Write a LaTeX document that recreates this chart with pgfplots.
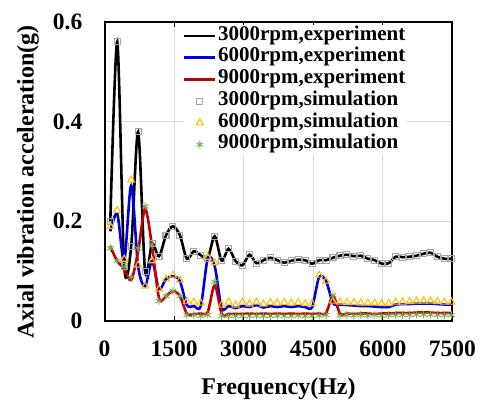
\documentclass[border=0pt]{standalone}
\usepackage{fontspec}
\setmainfont{Liberation Serif}
\usepackage{pgfplots}
\pgfplotsset{compat=1.18}
\usepackage{pgfplotstable}

\definecolor{cblue}{RGB}{0,0,230}
\definecolor{cred}{RGB}{192,0,0}
\definecolor{cgray}{RGB}{165,165,165}
\definecolor{cyel}{RGB}{255,192,0}
\definecolor{cgreen}{RGB}{112,173,71}

\pgfplotstableread{
f e3 e6 e9 s3 s6 s9
125 0.200 0.180 0.150 0.200 0.190 0.146
275 0.560 0.215 0.120 0.560 0.222 0.121
425 0.110 0.120 0.105 0.110 0.124 0.109
575 0.150 0.272 0.082 0.150 0.283 0.088
725 0.380 0.110 0.140 0.380 0.112 0.146
875 0.100 0.070 0.225 0.100 0.070 0.230
1025 0.155 0.120 0.150 0.155 0.121 0.153
1175 0.130 0.064 0.046 0.130 0.064 0.040
1325 0.172 0.084 0.050 0.172 0.084 0.050
1475 0.190 0.090 0.060 0.190 0.092 0.060
1625 0.172 0.080 0.050 0.172 0.082 0.050
1775 0.125 0.032 0.015 0.125 0.040 0.012
1925 0.140 0.030 0.014 0.140 0.038 0.012
2075 0.132 0.030 0.015 0.132 0.036 0.010
2225 0.126 0.125 0.018 0.126 0.128 0.012
2375 0.170 0.110 0.072 0.170 0.117 0.079
2525 0.121 0.026 0.015 0.121 0.032 0.010
2675 0.145 0.030 0.014 0.145 0.038 0.010
2825 0.120 0.026 0.014 0.120 0.032 0.010
2975 0.112 0.030 0.014 0.112 0.038 0.010
3125 0.133 0.028 0.015 0.133 0.034 0.010
3275 0.116 0.032 0.014 0.116 0.038 0.011
3425 0.122 0.027 0.015 0.122 0.034 0.010
3575 0.127 0.030 0.014 0.127 0.037 0.010
3725 0.122 0.028 0.015 0.122 0.036 0.011
3875 0.117 0.030 0.014 0.117 0.037 0.010
4025 0.121 0.028 0.015 0.121 0.036 0.010
4175 0.123 0.030 0.014 0.123 0.037 0.011
4325 0.122 0.028 0.015 0.122 0.035 0.010
4475 0.115 0.028 0.014 0.115 0.035 0.010
4625 0.122 0.088 0.015 0.122 0.092 0.011
4775 0.122 0.080 0.016 0.122 0.080 0.012
4925 0.127 0.036 0.050 0.127 0.040 0.052
5075 0.131 0.033 0.015 0.131 0.038 0.011
5225 0.133 0.032 0.015 0.133 0.037 0.012
5375 0.130 0.031 0.014 0.130 0.037 0.011
5525 0.131 0.030 0.015 0.131 0.036 0.012
5675 0.125 0.030 0.015 0.125 0.036 0.011
5825 0.122 0.029 0.014 0.122 0.036 0.012
5975 0.115 0.028 0.015 0.115 0.035 0.011
6125 0.116 0.028 0.015 0.116 0.035 0.012
6275 0.129 0.033 0.016 0.129 0.038 0.012
6425 0.128 0.034 0.016 0.128 0.038 0.012
6575 0.129 0.034 0.016 0.129 0.039 0.012
6725 0.131 0.035 0.017 0.131 0.040 0.013
6875 0.135 0.035 0.017 0.135 0.040 0.013
7025 0.137 0.035 0.017 0.137 0.040 0.013
7175 0.129 0.034 0.016 0.129 0.039 0.012
7325 0.125 0.033 0.016 0.125 0.038 0.012
7475 0.125 0.033 0.016 0.125 0.038 0.012
}\data

\begin{document}
\begin{tikzpicture}
\useasboundingbox (0,0) rectangle (492pt,400pt);
\begin{axis}[
  at={(104.5pt,79pt)}, anchor=south west,
  scale only axis, width=348pt, height=299pt,
  xmin=0, xmax=7500, ymin=0, ymax=0.6,
  xtick={0,1500,3000,4500,6000,7500},
  xticklabels={0,1500,3000,4500,6000,7500},
  ytick={0,0.2,0.4,0.6},
  yticklabels={0,0.2,0.4,0.6},
  grid=major, major grid style={draw=black!15, line width=0.8pt},
  axis line style={line width=2pt, black},
  tick align=inside, major tick length=5pt,
  xtick style={black, line width=1.2pt}, ytick style={draw=none},
  tick label style={font=\fontsize{23.5}{28}\selectfont\bfseries, inner sep=0pt},
  xticklabel style={anchor=base, yshift=-35pt},
  yticklabel style={anchor=east, xshift=-22pt},
  xlabel={Frequency(Hz)}, ylabel={Axial vibration acceleration(g)},
  label style={font=\fontsize{24}{28}\selectfont\bfseries},
  xlabel style={at={(axis description cs:0.5,-0.227)}, anchor=center},
  ylabel style={at={(axis description cs:-0.22,0.465)}, anchor=center},
  legend image code/.code={\draw[mark repeat=2,mark phase=2,#1] plot coordinates {(0pt,0pt) (15.5pt,0pt) (31pt,0pt)};},
  legend style={at={(0.225,0.99)}, anchor=north west, draw=none, fill=white,
    inner sep=0pt, row sep=0pt,
    font=\fontsize{21}{24}\selectfont\bfseries,
    nodes={inner sep=1.5pt, text height=13.6pt, text depth=5.1pt}},
  legend cell align=left,
]
\addplot[black, line width=2.6pt, smooth] table[x=f,y=e3]{\data};
\addlegendentry{3000rpm,experiment}
\addplot[cblue, line width=2.6pt, smooth] table[x=f,y=e6]{\data};
\addlegendentry{6000rpm,experiment}
\addplot[cred, line width=2.6pt, smooth] table[x=f,y=e9]{\data};
\addlegendentry{9000rpm,experiment}
\addplot[only marks, mark=square, mark size=3pt, mark options={draw=cgray, line width=1.1pt}] table[x=f,y=s3]{\data};
\addlegendentry{3000rpm,simulation}
\addplot[only marks, mark=triangle, mark size=4pt, mark options={draw=cyel, line width=1.1pt}] table[x=f,y=s6]{\data};
\addlegendentry{6000rpm,simulation}
\addplot[only marks, mark=asterisk, mark size=3.8pt, mark options={draw=cgreen, line width=0.9pt}] table[x=f,y=s9]{\data};
\addlegendentry{9000rpm,simulation}
\end{axis}
\end{tikzpicture}
\end{document}
